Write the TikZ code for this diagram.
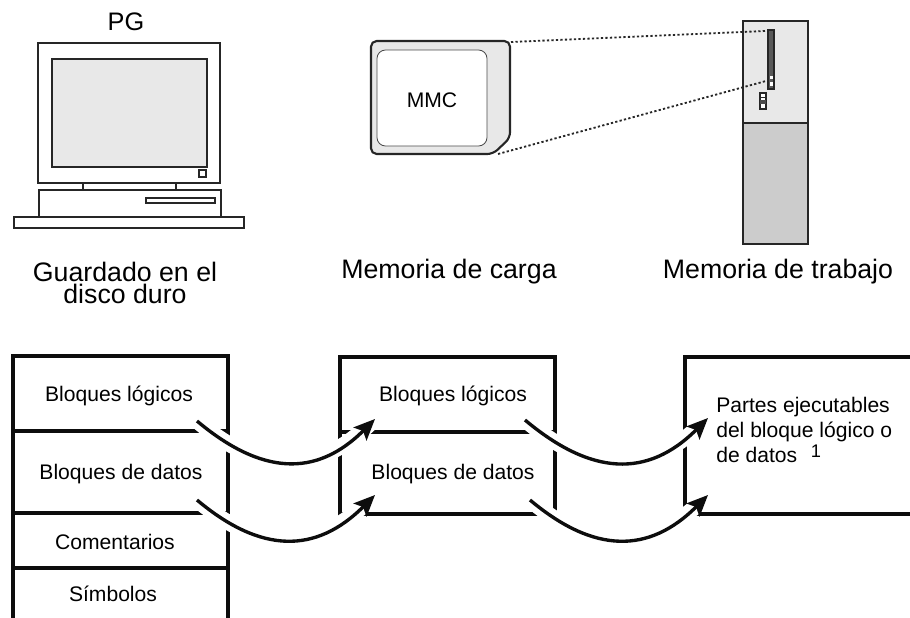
\documentclass[tikz,border=0pt]{standalone}
\usepackage{fontspec}
\setmainfont{Liberation Sans}
\usepackage{xcolor}
\usetikzlibrary{arrows.meta}

\definecolor{screen}{HTML}{E8E8E8}
\definecolor{casing}{HTML}{CCCCCC}

\begin{document}
\begin{tikzpicture}[
  x=0.025cm, y=-0.025cm,
  every node/.style={inner sep=0pt, align=center,
    font=\fontsize{15}{17.5}\selectfont},
  caption/.style={font=\fontsize{19}{15.5}\selectfont},
  device/.style={draw=black!85, line width=1.2pt},
  link/.style={draw=black!85, line width=1.3pt, dash pattern=on 1.6pt off 1.6pt},
  rule/.style={draw=black!95, line width=2.5pt},
  halo/.style={draw=white, line width=11pt, line cap=round},
  arrow/.style={-{Stealth[length=15pt, width=13pt, inset=3pt]},
    draw=black!95, line width=2.4pt},
]
  \useasboundingbox (0,0) rectangle (910,618);

  % PG
  \draw[device, fill=white] (38,43) rectangle (220,183);
  \draw[device, fill=screen] (52,59) rectangle (207,167);
  \draw[device] (199,170) rectangle (206,177);
  \draw[device] (83,183) rectangle (176,190);
  \draw[device] (39,190) rectangle (221,217);
  \draw[device] (146,198) rectangle (215,203);
  \draw[device] (14,217) rectangle (244,228);

  % MMC card
  \draw[device, line width=1.5pt, fill=screen, rounded corners=4pt]
    (371,41) -- (510,41) -- (510,138) -- (493,154) -- (371,154) -- cycle;
  \draw[draw=black!70, line width=0.6pt, fill=white, rounded corners=6pt]
    (377,50) rectangle (487,146);

  % CPU
  \draw[device, line width=1.5pt, fill=screen] (743,21) rectangle (808,123);
  \draw[device, line width=1.5pt, fill=casing] (743,123) rectangle (808,244);
  \draw[device, fill=black!65] (768,30) rectangle (774,89);
  \fill[white] (769.5,76) rectangle (772.5,79);
  \fill[white] (769.5,82) rectangle (772.5,86);
  \draw[device, fill=white] (760,93) rectangle (766,109);
  \fill[black!70] (760,100) rectangle (766,104);
  \draw[device, line width=0.6pt] (760,97) -- (766,97);

  % card slot
  \draw[link] (511,42) -- (765,31);
  \draw[link] (498,154) -- (766,81);

  % memory columns
  \draw[rule] (13,618) -- (13,356) -- (228,356) -- (228,618);
  \foreach \y in {431,513,568}
    \draw[rule] (13,\y) -- (228,\y);
  \draw[rule] (340,357) rectangle (555,514);
  \draw[rule] (340,432) -- (555,432);
  \draw[rule] (910,357) -- (685,357) -- (685,514) -- (910,514);

  % transfer arrows
  \coordinate (lgA) at (197,421);
  \coordinate (lgB) at (375,419);
  \coordinate (dtA) at (197,500);
  \coordinate (dtB) at (375,495);
  \coordinate (lgC) at (525,420);
  \coordinate (exA) at (708,418);
  \coordinate (dtC) at (530,500);
  \coordinate (exB) at (708,495);
  \foreach \s/\e in {lgA/lgB, dtA/dtB, lgC/exA, dtC/exB}
    \draw[halo] (\s) to[out=-40, in=-135, looseness=1.2] (\e);
  \foreach \s/\e in {lgA/lgB, dtA/dtB, lgC/exA, dtC/exB}
    \draw[arrow] (\s) to[out=-40, in=-135, looseness=1.2] (\e);

  % labels
  \node[caption, font=\fontsize{18}{14}\selectfont] (pg) at (126,22) {PG};
  \node (mmc) at (432,100) {MMC};
  \node[caption] (hdd) at (125,283) {Guardado en el\\disco duro};
  \node[caption] (load) at (449,272) {Memoria de carga};
  \node[caption] (work) at (778,272) {Memoria de trabajo};

  \node (hlog) at (119,396) {Bloques lógicos};
  \node (hdat) at (121,474) {Bloques de datos};
  \node (hcom) at (115,542) {Comentarios};
  \node (hsym) at (113,594) {Símbolos};
  \node (llog) at (453,396) {Bloques lógicos};
  \node (ldat) at (453,474) {Bloques de datos};
  \node[anchor=west, align=left] (wexe) at (716,430)
    {Partes ejecutables\\del bloque lógico o\\de datos};
  \node[font=\fontsize{13}{14}\selectfont] (wfn) at (816,451) {1};
\end{tikzpicture}
\end{document}
